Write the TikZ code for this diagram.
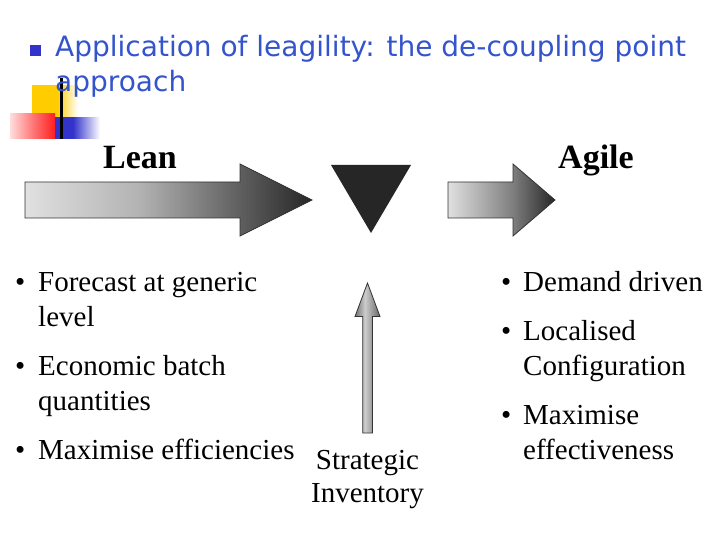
\documentclass[tikz,border=0pt]{standalone}
\usepackage{fontspec}
\setmainfont{Liberation Serif}
\newfontfamily\titlefont{DejaVu Sans}
\definecolor{titleblue}{RGB}{52,84,204}
\definecolor{bulletblue}{RGB}{51,51,204}
\definecolor{decoyellow}{RGB}{255,204,0}
\definecolor{decored}{RGB}{255,30,30}
\definecolor{decoblue}{RGB}{51,51,204}
\pgfdeclarehorizontalshading{leanshade}{100bp}{color(0bp)=(black!12); color(25bp)=(black!12); color(45bp)=(black!30); color(62bp)=(black!62); color(75bp)=(black!85); color(100bp)=(black!85)}
\pgfdeclarehorizontalshading{agileshade}{100bp}{color(0bp)=(black!12); color(25bp)=(black!12); color(55bp)=(black!50); color(75bp)=(black!85); color(100bp)=(black!85)}
\pgfdeclarehorizontalshading{invshade}{100bp}{color(0bp)=(black!55); color(25bp)=(black!55); color(45bp)=(black!20); color(75bp)=(black!60); color(100bp)=(black!60)}
\pgfdeclarehorizontalshading{yellowfade}{100bp}{color(0bp)=(decoyellow); color(25bp)=(decoyellow); color(52bp)=(decoyellow); color(75bp)=(white); color(100bp)=(white)}
\pgfdeclarehorizontalshading{redfade}{100bp}{color(0bp)=(decored!15); color(25bp)=(decored!15); color(50bp)=(decored!60); color(75bp)=(decored); color(100bp)=(decored)}
\pgfdeclarehorizontalshading{bluefade}{100bp}{color(0bp)=(decoblue); color(25bp)=(decoblue); color(45bp)=(decoblue); color(75bp)=(white); color(100bp)=(white)}
\tikzset{
  txt/.style={anchor=base west, inner sep=0pt, font=\fontsize{29}{35}\selectfont},
  hdr/.style={anchor=base, inner sep=0pt, font=\fontsize{34}{40}\selectfont\bfseries},
  ttl/.style={anchor=base west, inner sep=0pt, text=titleblue, font=\titlefont\fontsize{28}{34}\selectfont},
  blockarrow/.style={draw=black!80, line width=0.8pt, line join=miter},
}
\begin{document}
\begin{tikzpicture}[x=1pt, y=-1pt]
\useasboundingbox (0,0) rectangle (720,540);
\fill[white] (0,0) rectangle (720,540);
% decorations
\shade[shading=yellowfade] (32,86) rectangle (78,118);
\shade[shading=redfade] (10,114) rectangle (55,139);
\shade[shading=bluefade] (55,118) rectangle (100,139);
\fill[black] (59.8,78) rectangle (62.6,139);
% title
\fill[bulletblue] (29.5,45.5) rectangle (40.5,56.5);
\node[ttl] (title1) at (55,57) {Application of leagility: the de-coupling point};
\node[ttl] (title2) at (55,92) {approach};
% lean arrow
\shade[shading=leanshade, blockarrow] (25,182) -- (240,182) -- (240,164) -- (312,200) -- (240,236) -- (240,218) -- (25,218) -- cycle;
\node[hdr] (lean) at (140,169) {Lean};
% triangle
\fill[black!85] (331,165) -- (411,165) -- (371,233) -- cycle;
% agile arrow
\shade[shading=agileshade, blockarrow] (448,182) -- (513,182) -- (513,164) -- (555,200) -- (513,236) -- (513,218) -- (448,218) -- cycle;
\node[hdr] (agile) at (596,169) {Agile};
% strategic inventory arrow
\shade[shading=invshade, blockarrow] (362.7,433) -- (362.7,316.5) -- (355,316.5) -- (367.5,283) -- (380,316.5) -- (372.5,316.5) -- (372.5,433) -- cycle;
\node[anchor=base, inner sep=0pt, font=\fontsize{29}{33}\selectfont] (strat) at (367.5,469) {Strategic};
\node[anchor=base, inner sep=0pt, font=\fontsize{29}{33}\selectfont] (inv) at (367.5,502) {Inventory};
% left bullets
\node[txt] (lb1) at (15,291) {•};
\node[txt] (l1) at (38,291) {Forecast at generic};
\node[txt] (l1b) at (38,326) {level};
\node[txt] (lb2) at (15,375) {•};
\node[txt] (l2) at (38,375) {Economic batch};
\node[txt] (l2b) at (38,410) {quantities};
\node[txt] (lb3) at (15,459) {•};
\node[txt] (l3) at (38,459) {Maximise efficiencies};
% right bullets
\node[txt] (rb1) at (501,291) {•};
\node[txt] (r1) at (523,291) {Demand driven};
\node[txt] (rb2) at (501,340) {•};
\node[txt] (r2) at (523,340) {Localised};
\node[txt] (r2b) at (523,375) {Configuration};
\node[txt] (rb3) at (501,424) {•};
\node[txt] (r3) at (523,424) {Maximise};
\node[txt] (r3b) at (523,459) {effectiveness};
\end{tikzpicture}
\end{document}
